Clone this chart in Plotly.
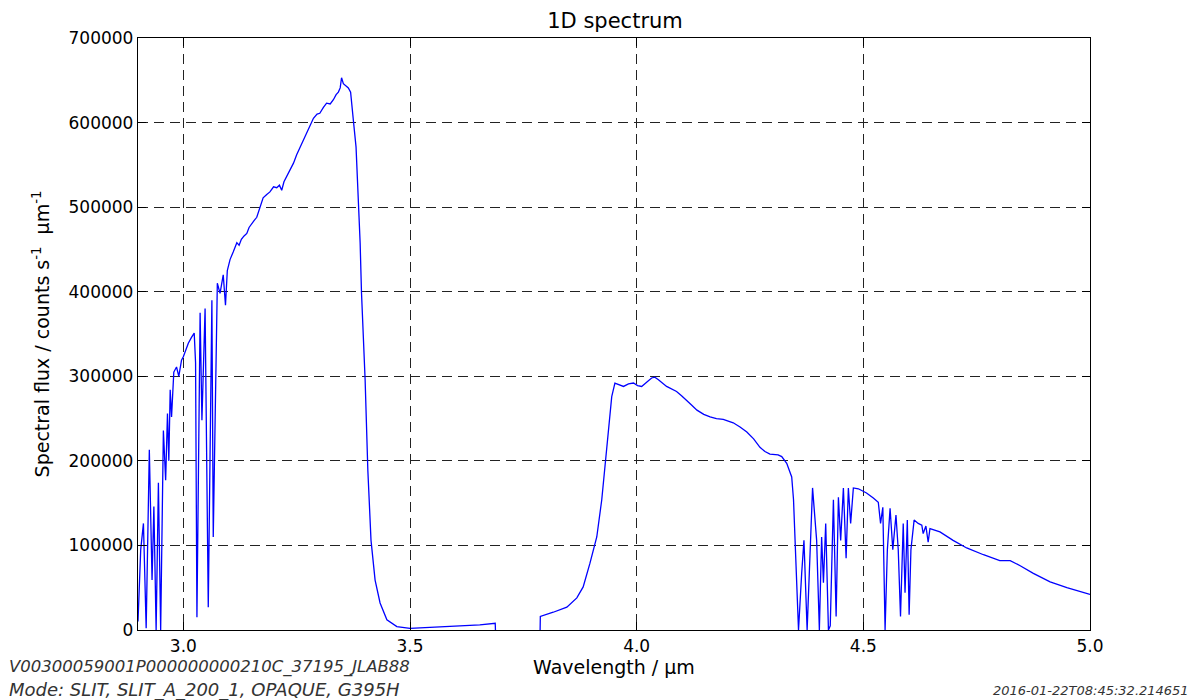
import plotly.graph_objects as go

# ---- data (wavelength in µm, flux in counts/s/µm) ----
wavelength = [
    2.900, 2.906, 2.912, 2.918, 2.925, 2.931, 2.935, 2.940, 2.945, 2.950,
    2.956, 2.961, 2.965, 2.968, 2.971, 2.974, 2.979, 2.985, 2.990, 2.996,
    3.000, 3.006, 3.011, 3.018, 3.024, 3.027, 3.030, 3.037, 3.041, 3.048,
    3.055, 3.063, 3.066, 3.075, 3.081, 3.088, 3.093, 3.097, 3.103, 3.110,
    3.118, 3.123, 3.128, 3.134, 3.140, 3.145, 3.150, 3.156, 3.162, 3.170,
    3.176, 3.184, 3.191, 3.199, 3.206, 3.212, 3.217, 3.222, 3.228, 3.235,
    3.243, 3.250, 3.257, 3.265, 3.272, 3.280, 3.287, 3.295, 3.301, 3.309,
    3.316, 3.324, 3.331, 3.337, 3.342, 3.346, 3.349, 3.353, 3.357, 3.364,
    3.369, 3.371, 3.375, 3.381, 3.386, 3.390, 3.393, 3.401, 3.407, 3.414,
    3.423, 3.434, 3.449, 3.471, 3.500, 3.540, 3.581, 3.620, 3.654, 3.688,
    3.6885, None,
    3.787, 3.7875, 3.816, 3.846, 3.868, 3.882, 3.897, 3.912, 3.923, 3.930,
    3.937, 3.945, 3.952, 3.962, 3.971, 3.982, 3.993, 4.002, 4.011, 4.022,
    4.033, 4.040, 4.048, 4.066, 4.077, 4.088, 4.099, 4.110, 4.121, 4.133,
    4.148, 4.162, 4.176, 4.191, 4.213, 4.228, 4.243, 4.258, 4.272, 4.283,
    4.294, 4.312, 4.320, 4.331, 4.342, 4.346, 4.349, 4.357, 4.364, 4.369,
    4.376, 4.388, 4.397, 4.403, 4.408, 4.412, 4.417, 4.423, 4.427, 4.434,
    4.440, 4.445, 4.450, 4.456, 4.462, 4.467, 4.472, 4.478, 4.489, 4.507,
    4.522, 4.533, 4.538, 4.543, 4.548, 4.553, 4.559, 4.565, 4.572, 4.577,
    4.582, 4.588, 4.592, 4.597, 4.601, 4.605, 4.612, 4.621, 4.629, 4.632,
    4.638, 4.643, 4.647, 4.669, 4.698, 4.728, 4.765, 4.801, 4.824, 4.846,
    4.875, 4.912, 4.949, 5.000,
]

flux = [
    10000, 95000, 126000, 2000, 213000, 59000, 146000, 0, 174000, 0,
    236000, 177000, 256000, 200000, 284000, 252000, 305000, 311000, 300000, 319000,
    323000, 332000, 339000, 346000, 351000, 316000, 15000, 375000, 248000, 380000,
    27000, 390000, 110000, 410000, 398000, 420000, 384000, 425000, 438000, 447000,
    458000, 455000, 462000, 466000, 469000, 476000, 480000, 484000, 488000, 500000,
    511000, 515000, 518000, 524000, 523000, 526000, 520000, 530000, 536000, 543000,
    552000, 562000, 570000, 580000, 589000, 598000, 605000, 610000, 611000, 618000,
    623000, 622000, 627000, 633000, 636000, 641000, 653000, 646000, 644000, 641000,
    636000, 623000, 603000, 571000, 517000, 458000, 399000, 296000, 189000, 106000,
    59000, 32000, 12000, 4000, 2000, 3000, 4000, 5000, 6000, 8000,
    0, None,
    0, 16000, 21000, 27000, 38000, 51000, 79000, 110000, 154000, 193000,
    240000, 276000, 292000, 290000, 288000, 291000, 292000, 289000, 288000, 293000,
    298000, 299000, 296000, 288000, 285000, 282000, 277000, 272000, 266000, 260000,
    255000, 252000, 250000, 249000, 245000, 240000, 234000, 226000, 216000, 211000,
    208000, 207000, 205000, 197000, 181000, 154000, 106000, 0, 67000, 106000,
    0, 168000, 106000, 0, 110000, 56000, 126000, 0, 5000, 154000,
    16000, 157000, 106000, 168000, 85000, 168000, 126000, 168000, 167000, 162000,
    156000, 151000, 126000, 145000, 0, 95000, 144000, 95000, 136000, 95000,
    16000, 126000, 44000, 130000, 18000, 95000, 130000, 126000, 124000, 114000,
    123000, 104000, 120000, 116000, 106000, 97000, 89000, 82000, 82000, 76000,
    67000, 57000, 50000, 42000,
]

x_ticks = [3.0, 3.5, 4.0, 4.5, 5.0]
y_ticks = [0, 100000, 200000, 300000, 400000, 500000, 600000, 700000]

title_text = "1D spectrum"
x_title = "Wavelength / µm"
y_title = "Spectral flux / counts s<sup>-1</sup>  µm<sup>-1</sup>"
file_id = "V00300059001P000000000210C_37195_JLAB88"
mode_text = "Mode: SLIT, SLIT_A_200_1, OPAQUE, G395H"
timestamp = "2016-01-22T08:45:32.214651"

FONT = "DejaVu Sans"

fig = go.Figure()
fig.add_trace(go.Scatter(
    x=wavelength, y=flux, mode="lines",
    line=dict(color="#0000ff", width=1.3),
    connectgaps=False, showlegend=False, hoverinfo="x+y",
))

axis_common = dict(
    showline=True, linecolor="black", linewidth=1.3, mirror="ticks",
    ticks="inside", ticklen=8, tickwidth=1, tickcolor="black",
    showgrid=True, gridcolor="#222222", gridwidth=1, griddash="10px,6px",
    zeroline=False,
    tickfont=dict(family=FONT, size=17, color="black"),
)

fig.update_xaxes(
    range=[2.9, 5.0], tickvals=x_ticks, ticktext=[f"{v:.1f}" for v in x_ticks],
    title=dict(text=x_title, font=dict(family=FONT, size=19, color="black"), standoff=5),
    **axis_common,
)
fig.update_yaxes(
    range=[0, 700000], tickvals=y_ticks, ticktext=[str(v) for v in y_ticks],
    title=dict(text=y_title, font=dict(family=FONT, size=19, color="black"), standoff=13),
    **axis_common,
)

fig.update_layout(
    width=1195, height=700,
    margin=dict(l=138, r=105, t=38, b=70, autoexpand=False),
    paper_bgcolor="white", plot_bgcolor="white",
    title=dict(text=title_text, x=(615 / 1195), xanchor="center",
               y=1 - 21 / 700, yanchor="middle", yref="container",
               font=dict(family=FONT, size=21, color="black")),
    font=dict(family=FONT),
)

fig.add_annotation(text=f"<i>{file_id}</i>", xref="paper", yref="paper",
                   x=(7 - 138) / 952, y=(630 - 667) / 592, xanchor="left", yanchor="middle",
                   showarrow=False, font=dict(family=FONT, size=16.5, color="#333333"))
fig.add_annotation(text=f"<i>{mode_text}</i>", xref="paper", yref="paper",
                   x=(7 - 138) / 952, y=(630 - 690) / 592, xanchor="left", yanchor="middle",
                   showarrow=False, font=dict(family=FONT, size=18, color="#333333"))
fig.add_annotation(text=f"<i>{timestamp}</i>", xref="paper", yref="paper",
                   x=(1191 - 138) / 952, y=(630 - 690) / 592, xanchor="right", yanchor="middle",
                   showarrow=False, font=dict(family=FONT, size=13, color="#333333"))

fig.write_html("out.html")
